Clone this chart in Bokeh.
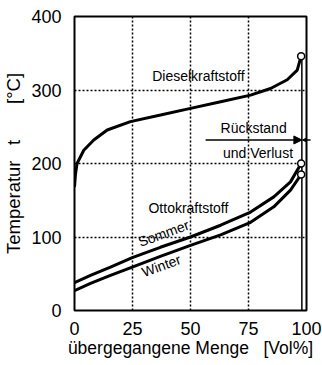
from bokeh.plotting import figure
from bokeh.models import Range1d, FixedTicker, Arrow, NormalHead, ColumnDataSource
from bokeh.core.properties import value
from bokeh.embed import file_html
from bokeh.resources import INLINE

FONT = "Liberation Sans"

# distillation curves: evaporated volume [Vol%] vs. temperature [°C]
diesel_pct = [0, 0.4, 1.1, 4, 8.3, 14.1, 24.1, 37.1, 50, 63, 75.9, 84.5, 91.7, 96, 97.7]
diesel_temp = [168, 185, 200, 218, 232, 245.6, 257, 266, 275, 284, 293, 302, 314, 327, 346]

sommer_pct = [0, 6.9, 15.5, 24.9, 37, 50, 63, 75.9, 85.9, 93.1, 97.7]
sommer_temp = [38, 47.7, 59, 72, 86, 100, 116, 134, 154.6, 175, 200]

winter_pct = [0, 6.9, 15.5, 24.9, 37, 50, 63, 75.9, 85.9, 93.1, 97.7]
winter_temp = [27, 37, 47.7, 59, 73.7, 88.7, 103, 120, 141, 163.7, 185]

# end points (final boiling point) and the residue marker line
end_pct = [97.7, 97.7, 97.7]
end_temp = [346, 200, 185]
residue_pct = 98
residue_arrow_y = 232

x_ticks = [0, 25, 50, 75, 100]
y_ticks = [0, 100, 200, 300, 400]

p = figure(
    width=322, height=365,
    frame_width=232, frame_height=294,
    min_border_left=74, min_border_right=16,
    min_border_top=16, min_border_bottom=55,
    x_range=Range1d(0, 100), y_range=Range1d(0, 400),
    toolbar_location=None, output_backend="svg",
    background_fill_color="white", border_fill_color="white",
)

p.outline_line_color = "black"
p.outline_line_width = 2

for ax in (p.xaxis[0], p.yaxis[0]):
    ax.axis_line_color = None
    ax.major_tick_line_color = None
    ax.minor_tick_line_color = None
    ax.major_label_text_font = FONT
    ax.major_label_text_font_size = "18px"
    ax.major_label_text_color = "black"
    ax.axis_label_text_font = FONT
    ax.axis_label_text_font_style = "normal"
    ax.axis_label_text_color = "black"

p.xaxis.major_label_standoff = 5
p.yaxis.major_label_standoff = 7
p.xaxis.ticker = FixedTicker(ticks=x_ticks)
p.yaxis.ticker = FixedTicker(ticks=y_ticks)
p.xaxis.axis_label = "übergegangene Menge\u00a0\u00a0\u00a0[Vol%]"
p.yaxis.axis_label = "Temperatur\u00a0\u00a0\u00a0t" + "\u00a0" * 7 + "[°C]"
p.xaxis.axis_label_text_font_size = "17.5px"
p.yaxis.axis_label_text_font_size = "18.5px"
p.xaxis.axis_label_standoff = 0
p.yaxis.axis_label_standoff = 4

for g in (p.xgrid[0], p.ygrid[0]):
    g.grid_line_color = "black"
    g.grid_line_width = 1.5
    g.grid_line_dash = "2 2"
    g.grid_line_alpha = 1

# curves
p.line(diesel_pct, diesel_temp, line_color="black", line_width=3)
p.line(sommer_pct, sommer_temp, line_color="black", line_width=3)
p.line(winter_pct, winter_temp, line_color="black", line_width=3)

# vertical line at the final boiling point
p.segment(x0=[residue_pct], y0=[0], x1=[residue_pct], y1=[max(end_temp)],
          line_color="black", line_width=1.5)

p.scatter(end_pct, end_temp, marker="circle", size=7,
          fill_color="white", line_color="black", line_width=1.5)

# residue / loss arrows
p.add_layout(Arrow(end=NormalHead(size=8, fill_color="black", line_color="black"),
                   x_start=56.5, y_start=residue_arrow_y,
                   x_end=residue_pct, y_end=residue_arrow_y,
                   line_color="black", line_width=1.5))
p.add_layout(Arrow(end=NormalHead(size=8, fill_color="black", line_color="black"),
                   x_start=107, y_start=residue_arrow_y,
                   x_end=residue_pct + 0.3, y_end=residue_arrow_y,
                   line_color="black", line_width=1.5))

labels = ColumnDataSource(dict(
    x=[53.4, 77.2, 79.1, 49.1],
    y=[319, 248, 213.7, 140],
    text=["Dieselkraftstoff", "Rückstand", "und Verlust", "Ottokraftstoff"],
))
p.text("x", "y", "text", source=labels, text_font=value(FONT), text_font_size="14px",
       text_align="center", text_baseline="middle", text_color="black")

season = ColumnDataSource(dict(
    x=[38.4, 37.4], y=[105, 61], text=["Sommer", "Winter"],
))
p.text("x", "y", "text", source=season, angle=0.35, text_font=value(FONT),
       text_font_size="14px", text_align="center", text_baseline="middle",
       text_color="black")

open("out.html", "w").write(file_html(p, INLINE))
